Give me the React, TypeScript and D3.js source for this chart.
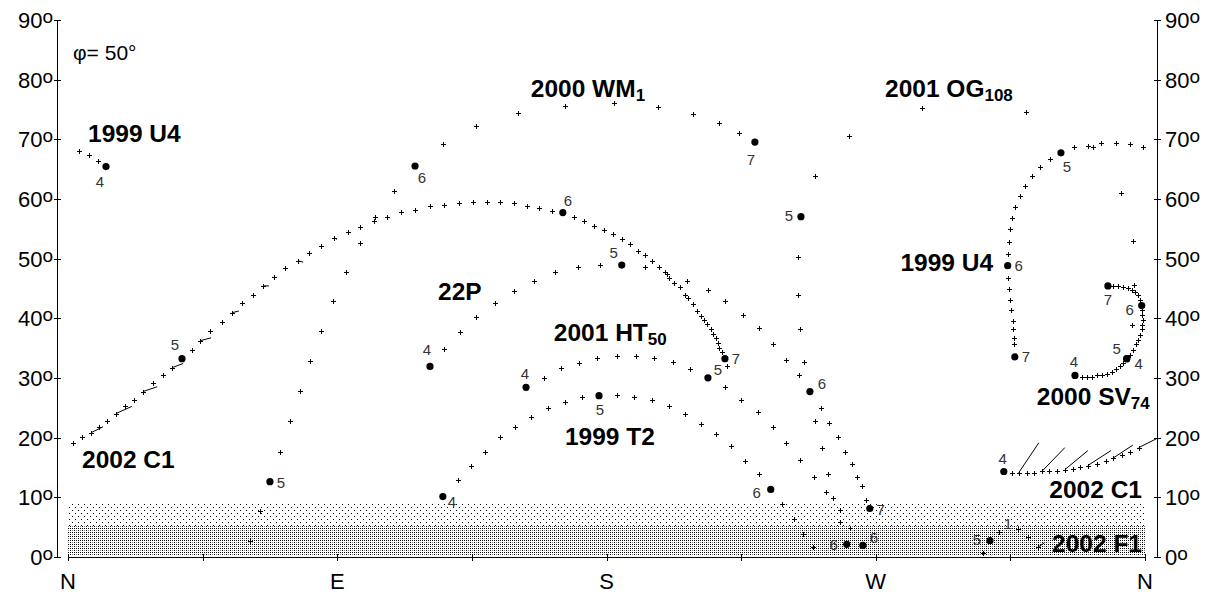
import React from 'react';
import * as d3 from 'd3';

// ---- data: azimuth (deg, N=0, E=90, S=180, W=270) and altitude (deg); third value = month mark ----
type Pt = [number, number, number?];

const u4_1999: Pt[] = [
  [12.7, 65.6, 4], [10.0, 66.6], [7.0, 67.6], [3.7, 68.2],
  [359.3, 68.9], [354.9, 69.4], [350.2, 69.6], [345.2, 69.6], [342.6, 68.9], [340.9, 69.1], [336.2, 68.8],
  [331.9, 67.9, 5], [328.2, 66.9], [324.8, 65.6], [322.2, 64.0], [319.8, 62.4], [318.2, 60.7], [316.5, 58.9],
  [315.5, 57.0], [314.8, 55.2], [314.5, 53.0], [314.1, 51.0],
  [314.1, 49.0, 6], [314.1, 47.0], [314.5, 45.1], [314.8, 43.3], [315.2, 41.6], [315.8, 39.8], [315.8, 38.3],
  [316.2, 36.9], [316.2, 35.8], [316.5, 33.7, 7],
];

const og108_2001: Pt[] = [
  [353.9, 33.4, 4], [355.6, 39.1], [356.3, 45.8], [355.9, 53.2], [351.9, 61.2], [320.2, 74.8], [285.4, 75.4],
  [261.0, 70.7], [249.7, 64.0], [245.0, 57.2, 5], [244.0, 50.5], [244.0, 44.1], [244.6, 38.3], [246.0, 32.9],
  [247.6, 27.9], [249.7, 23.0], [252.0, 18.5], [254.0, 14.0], [255.7, 10.0], [258.0, 6.1], [260.3, 2.3, 6],
];

const wm1_2000: Pt[] = [
  [60.8, 2.9], [64.2, 7.8], [67.5, 12.8, 5], [70.9, 17.8], [74.2, 22.9], [77.5, 28.0], [80.9, 33.1], [84.6, 38.1],
  [88.6, 43.1], [92.9, 48.0], [97.6, 52.8], [102.6, 57.2], [108.9, 61.5], [116.0, 65.7, 6], [125.3, 69.4],
  [136.4, 72.4], [150.4, 74.6], [166.1, 75.8], [182.5, 76.3], [197.2, 75.6], [208.9, 74.4], [217.6, 72.9],
  [224.3, 71.3], [229.6, 69.7, 7],
];

const p22: Pt[] = [
  [121.0, 32.1, 4], [125.7, 35.1], [131.0, 37.9], [136.4, 40.4], [142.7, 42.8], [149.1, 44.8], [155.7, 46.5],
  [162.8, 48.0], [170.4, 48.8], [177.8, 49.1], [185.1, 49.1, 5], [192.8, 48.8], [200.2, 47.6], [206.9, 46.5],
  [213.9, 45.0], [219.6, 43.0], [225.6, 40.8], [230.9, 38.6], [235.6, 35.8], [240.0, 33.2], [244.3, 30.6],
  [248.0, 27.9, 6], [251.7, 25.2], [254.3, 22.7], [257.3, 20.2], [259.7, 17.8], [262.0, 15.8], [263.7, 13.6],
  [265.4, 12.0], [266.7, 9.8], [268.0, 8.3, 7],
];

const ht50_2001: Pt[] = [
  [153.1, 28.6, 4], [159.1, 30.2], [164.8, 31.9], [170.8, 32.7], [176.8, 33.6], [183.5, 33.9], [189.8, 33.9],
  [195.8, 33.6], [202.2, 32.9], [207.9, 31.7], [213.9, 30.2, 5], [219.6, 28.6], [224.9, 26.5], [230.6, 24.4],
  [235.6, 21.9], [240.0, 19.3], [244.6, 16.5], [249.3, 13.6], [253.3, 11.0], [258.0, 8.1], [261.3, 5.1],
  [265.7, 2.1, 6],
];

const t2_1999: Pt[] = [
  [125.3, 10.3, 4], [130.3, 13.0], [134.7, 15.5], [139.4, 17.8], [144.4, 20.2], [149.4, 22.0], [154.7, 23.7],
  [160.4, 25.2], [166.1, 26.2], [171.8, 26.9], [177.5, 27.2, 5], [183.5, 27.4], [189.2, 27.0], [195.2, 26.4],
  [200.9, 25.4], [206.2, 24.2], [211.6, 22.4], [216.6, 20.8], [221.6, 18.7], [226.3, 16.3], [230.9, 14.0],
  [234.9, 11.5, 6], [238.6, 9.0], [242.6, 6.6], [245.6, 4.1], [249.0, 1.9],
];

const c1_2002: Pt[] = [
  [312.8, 14.5, 4], [315.5, 14.3], [317.8, 14.3], [320.5, 14.3], [322.8, 14.3], [325.5, 14.5], [327.9, 14.5],
  [330.5, 14.5], [333.2, 14.8], [335.9, 15.0], [338.2, 15.2], [340.9, 15.5], [343.9, 15.8], [346.9, 16.2],
  [349.2, 16.7], [352.2, 17.2], [354.9, 17.8], [357.9, 18.5],
  [1.7, 19.3], [4.7, 20.2], [7.7, 21.0], [10.4, 22.0], [13.0, 23.0], [16.0, 24.2], [19.0, 25.4], [22.1, 26.5],
  [25.1, 27.9], [28.4, 29.4], [31.7, 30.6], [34.8, 31.9], [38.1, 33.4, 5], [41.4, 34.9], [44.1, 36.4],
  [47.5, 38.1], [51.5, 39.6], [54.8, 41.1], [58.2, 42.8], [61.8, 44.1], [65.2, 45.6], [68.8, 47.1], [72.5, 48.6],
  [76.9, 49.8], [80.5, 51.2], [84.6, 52.3], [88.9, 53.7], [93.6, 54.7], [97.6, 55.5], [102.3, 56.5],
  [106.6, 57.2], [111.3, 58.0], [116.0, 58.4], [121.0, 59.0], [125.7, 59.2], [130.7, 59.5], [135.4, 59.7],
  [140.0, 59.7], [144.4, 59.7], [149.1, 59.5], [153.4, 59.0], [157.4, 58.7], [161.8, 58.2], [165.4, 57.9, 6],
  [169.1, 57.2], [172.5, 56.5], [175.8, 55.7], [179.1, 55.0], [182.1, 54.3], [185.1, 53.5], [187.8, 52.7],
  [190.5, 51.5], [192.8, 50.7], [195.2, 49.8], [197.5, 48.8], [199.5, 48.0], [200.9, 47.0], [202.5, 46.1],
  [204.5, 45.5], [206.2, 44.1], [207.2, 43.5], [208.9, 42.6], [210.2, 41.4], [211.6, 40.6], [212.6, 39.9],
  [213.6, 39.3], [214.9, 38.4], [215.6, 37.6], [216.6, 36.9], [217.2, 36.1], [217.6, 35.2], [218.6, 34.6],
  [219.6, 33.4, 7], [220.3, 32.1],
];

const f1_2002: Pt[] = [
  [305.8, 0.9], [308.2, 2.9, 5], [311.2, 4.4], [317.5, 4.9], [320.9, 3.6], [324.2, 1.8],
];

const sv74_2000: Pt[] = [
  [336.6, 30.6, 4], [338.9, 30.4], [340.6, 30.4], [342.2, 30.4], [343.9, 30.6], [345.6, 30.6], [347.3, 30.9],
  [348.9, 31.1], [350.3, 31.6], [351.6, 32.1], [352.6, 32.7], [353.9, 33.4, 5], [354.9, 34.1], [355.9, 34.9],
  [356.9, 35.8], [357.6, 36.6], [358.3, 37.4], [358.9, 38.3], [358.9, 39.1], [359.3, 39.9], [358.9, 40.8],
  [358.9, 41.6], [358.9, 42.3, 6], [358.3, 43.3], [357.6, 44.0], [356.6, 44.6], [355.6, 45.0], [354.3, 45.3],
  [352.6, 45.5], [350.9, 45.6], [349.2, 45.6], [347.6, 45.6, 7],
];

// tails: base az, base alt, tail length in az, tail length in alt
const tails: [number, number, number, number][] = [
  [317.8, 14.3, 6.7, 5.0], [325.5, 14.5, 7.7, 4.0], [333.2, 14.8, 7.7, 3.2], [340.9, 15.5, 7.7, 2.5],
  [349.2, 16.7, 6.7, 2.2], [357.9, 18.5, 6.0, 1.5],
  [7.7, 21.0, 4.0, 1.0], [16.0, 24.2, 5.3, 1.2], [25.1, 27.9, 4.7, 0.8], [34.8, 31.9, 3.7, 0.7],
  [44.1, 36.4, 3.7, 0.5], [54.8, 41.1, 2.3, 0.3], [65.2, 45.6, 2.0, 0], [76.9, 49.8, 1.7, -0.2],
  [88.9, 53.7, 1.0, -0.3],
  [324.2, 1.8, 2.3, 0.8],
];

const altTicks = [0, 10, 20, 30, 40, 50, 60, 70, 80, 90];
const azTicks = [0, 45, 90, 135, 180, 225, 270, 315, 360];
const azLabels: Record<number, string> = { 0: 'N', 90: 'E', 180: 'S', 270: 'W', 360: 'N' };

// visibility bands near the horizon (altitude ranges)
const bands = [
  { from: 0.3, to: 5.4, pattern: 'dense' },
  { from: 5.4, to: 9.4, pattern: 'light' },
];

// ---- layout ----
const W = 1216;
const H = 594;
const x = d3.scaleLinear().domain([0, 360]).range([68, 1145]);
const y = d3.scaleLinear().domain([0, 90]).range([558, 21]);
const leftAxisX = 57;
const rightAxisX = 1157;
const FONT = "'Liberation Sans', Arial, sans-serif";

const comets = [
  { key: 'U4', track: u4_1999 },
  { key: 'OG', track: og108_2001 },
  { key: 'WM', track: wm1_2000 },
  { key: '22P', track: p22 },
  { key: 'HT', track: ht50_2001 },
  { key: 'T2', track: t2_1999 },
  { key: 'C1', track: c1_2002 },
  { key: 'F1', track: f1_2002 },
  { key: 'SV', track: sv74_2000 },
];

// pixel offsets of month numbers from their dots
const markOffsets: Record<string, [number, number]> = {
  'U4-4': [-6, 15], 'U4-5': [6, 14], 'U4-6': [11, 0], 'U4-7': [11, 0],
  'OG-4': [12, 5], 'OG-5': [-12, -1], 'OG-6': [-13, 0],
  'WM-5': [11, 1], 'WM-6': [7, 12], 'WM-7': [-4, 17],
  '22P-4': [-3, -17], '22P-5': [-8, -13], '22P-6': [12, -8], '22P-7': [11, 1],
  'HT-4': [-1, -14], 'HT-5': [10, -8], 'HT-6': [11, -8],
  'T2-4': [9, 5], 'T2-5': [1, 14], 'T2-6': [-14, 3],
  'C1-4': [-1, -13], 'C1-5': [-7, -14], 'C1-6': [5, -12], 'C1-7': [11, 0],
  'F1-5': [-13, -1],
  'SV-4': [-1, -14], 'SV-5': [-10, -10], 'SV-6': [-12, 4], 'SV-7': [0, 14],
};

const extraMarks = [{ text: '1', az: 314.2, alt: 5.7 }];

const nameLabels = [
  { text: '1999 U4', sub: '', az: 6.7, alt: 69.7, anchor: 'start' },
  { text: '1999 U4', sub: '', az: 309.2, alt: 48.1, anchor: 'end' },
  { text: '2000 WM', sub: '1', az: 154.7, alt: 77.3, anchor: 'start' },
  { text: '2001 OG', sub: '108', az: 273.1, alt: 77.3, anchor: 'start' },
  { text: '22P', sub: '', az: 123.7, alt: 43.2, anchor: 'start' },
  { text: '2001 HT', sub: '50', az: 162.4, alt: 36.4, anchor: 'start' },
  { text: '1999 T2', sub: '', az: 166.1, alt: 18.9, anchor: 'start' },
  { text: '2002 C1', sub: '', az: 4.7, alt: 15.1, anchor: 'start' },
  { text: '2000 SV', sub: '74', az: 361.6, alt: 25.6, anchor: 'end' },
  { text: '2002 C1', sub: '', az: 359.0, alt: 10.0, anchor: 'end' },
  { text: '2002 F1', sub: '', az: 359.0, alt: 1.0, anchor: 'end' },
];

const px = (v: number) => Math.round(v) + 0.5;

export default function App() {
  const plusPath = comets
    .flatMap((c) => c.track.filter((p) => p[2] === undefined))
    .map((p) => {
      const cx = px(x(p[0]));
      const cy = px(y(p[1]));
      return `M${cx - 2.5},${cy}H${cx + 2.5}M${cx},${cy - 2.5}V${cy + 2.5}`;
    })
    .join('');

  return (
    <svg
      width={W}
      height={H}
      style={{ position: 'absolute', left: 0, top: 0, background: '#fff', display: 'block' }}
      fontFamily={FONT}
    >
      <defs>
        <pattern id="dense" patternUnits="userSpaceOnUse" width={4} height={4}>
          <rect x={0} y={0} width={1} height={1} fill="#000" />
          <rect x={2} y={2} width={1} height={1} fill="#000" />
          <rect x={2} y={0} width={1} height={1} fill="#000" />
          <rect x={0} y={2} width={1} height={1} fill="#000" opacity={0.5} />
        </pattern>
        <pattern id="light" patternUnits="userSpaceOnUse" width={6} height={6}>
          <rect x={0} y={0} width={1} height={1} fill="#000" />
          <rect x={3} y={3} width={1} height={1} fill="#000" />
        </pattern>
      </defs>
      <rect width={W} height={H} fill="#fff" />

      {bands.map((b) => (
        <rect
          key={b.pattern}
          x={x(0)}
          width={x(360) - x(0)}
          y={Math.round(y(b.to))}
          height={Math.round(y(b.from)) - Math.round(y(b.to))}
          fill={`url(#${b.pattern})`}
        />
      ))}

      {/* left and right altitude axes */}
      {[leftAxisX, rightAxisX].map((ax) => (
        <g key={ax}>
          <line x1={ax + 0.5} x2={ax + 0.5} y1={y(90)} y2={y(0)} stroke="#000" />
          {altTicks.map((t) => (
            <line key={t} x1={ax - 3} x2={ax + 4} y1={px(y(t)) - 1} y2={px(y(t)) - 1} stroke="#000" />
          ))}
        </g>
      ))}
      {altTicks.map((t) => (
        <g key={t} fontSize={22} fill="#000">
          <text x={leftAxisX - 4} y={y(t) + 7} textAnchor="end">
            {t}
            <tspan fontSize={19} dy={-5}>o</tspan>
          </text>
          <text x={rightAxisX + 8} y={y(t) + 7} textAnchor="start">
            {t}
            <tspan fontSize={19} dy={-5}>o</tspan>
          </text>
        </g>
      ))}

      {/* azimuth axis */}
      <line x1={x(0)} x2={x(360)} y1={557.5} y2={557.5} stroke="#000" />
      {azTicks.map((t) => (
        <line key={t} x1={px(x(t))} x2={px(x(t))} y1={554} y2={561} stroke="#000" />
      ))}
      {azTicks
        .filter((t) => azLabels[t])
        .map((t) => (
          <text key={t} x={x(t)} y={589} fontSize={22} textAnchor="middle" fill="#000">
            {azLabels[t]}
          </text>
        ))}

      <text x={73} y={60} fontSize={21} fill="#000">φ= 50°</text>

      {/* tails */}
      {tails.map((t, i) => (
        <line
          key={i}
          x1={x(t[0])}
          y1={y(t[1])}
          x2={x(t[0] + t[2])}
          y2={y(t[1] + t[3])}
          stroke="#000"
          strokeWidth={1}
        />
      ))}

      {/* daily positions */}
      <path d={plusPath} stroke="#000" strokeWidth={1} fill="none" shapeRendering="crispEdges" />

      {/* monthly positions */}
      {comets.map((c) =>
        c.track
          .filter((p) => p[2] !== undefined)
          .map((p, i) => {
            const off = markOffsets[`${c.key}-${p[2]}`] || [10, 0];
            return (
              <g key={`${c.key}-${i}`}>
                <circle cx={x(p[0])} cy={y(p[1])} r={3.6} fill="#000" />
                <text
                  x={x(p[0]) + off[0]}
                  y={y(p[1]) + off[1]}
                  fontSize={15}
                  fill="#333"
                  textAnchor="middle"
                  dominantBaseline="central"
                >
                  {p[2]}
                </text>
              </g>
            );
          })
      )}
      {extraMarks.map((m, i) => (
        <text key={i} x={x(m.az)} y={y(m.alt)} fontSize={15} fill="#333" textAnchor="middle" dominantBaseline="central">
          {m.text}
        </text>
      ))}

      {/* comet designations */}
      {nameLabels.map((l, i) => (
        <text
          key={i}
          x={x(l.az)}
          y={y(l.alt)}
          fontSize={24.5}
          fontWeight="bold"
          textAnchor={l.anchor as any}
          fill="#000"
        >
          {l.text}
          {l.sub && (
            <tspan fontSize={17} dy={4}>
              {l.sub}
            </tspan>
          )}
        </text>
      ))}
    </svg>
  );
}
